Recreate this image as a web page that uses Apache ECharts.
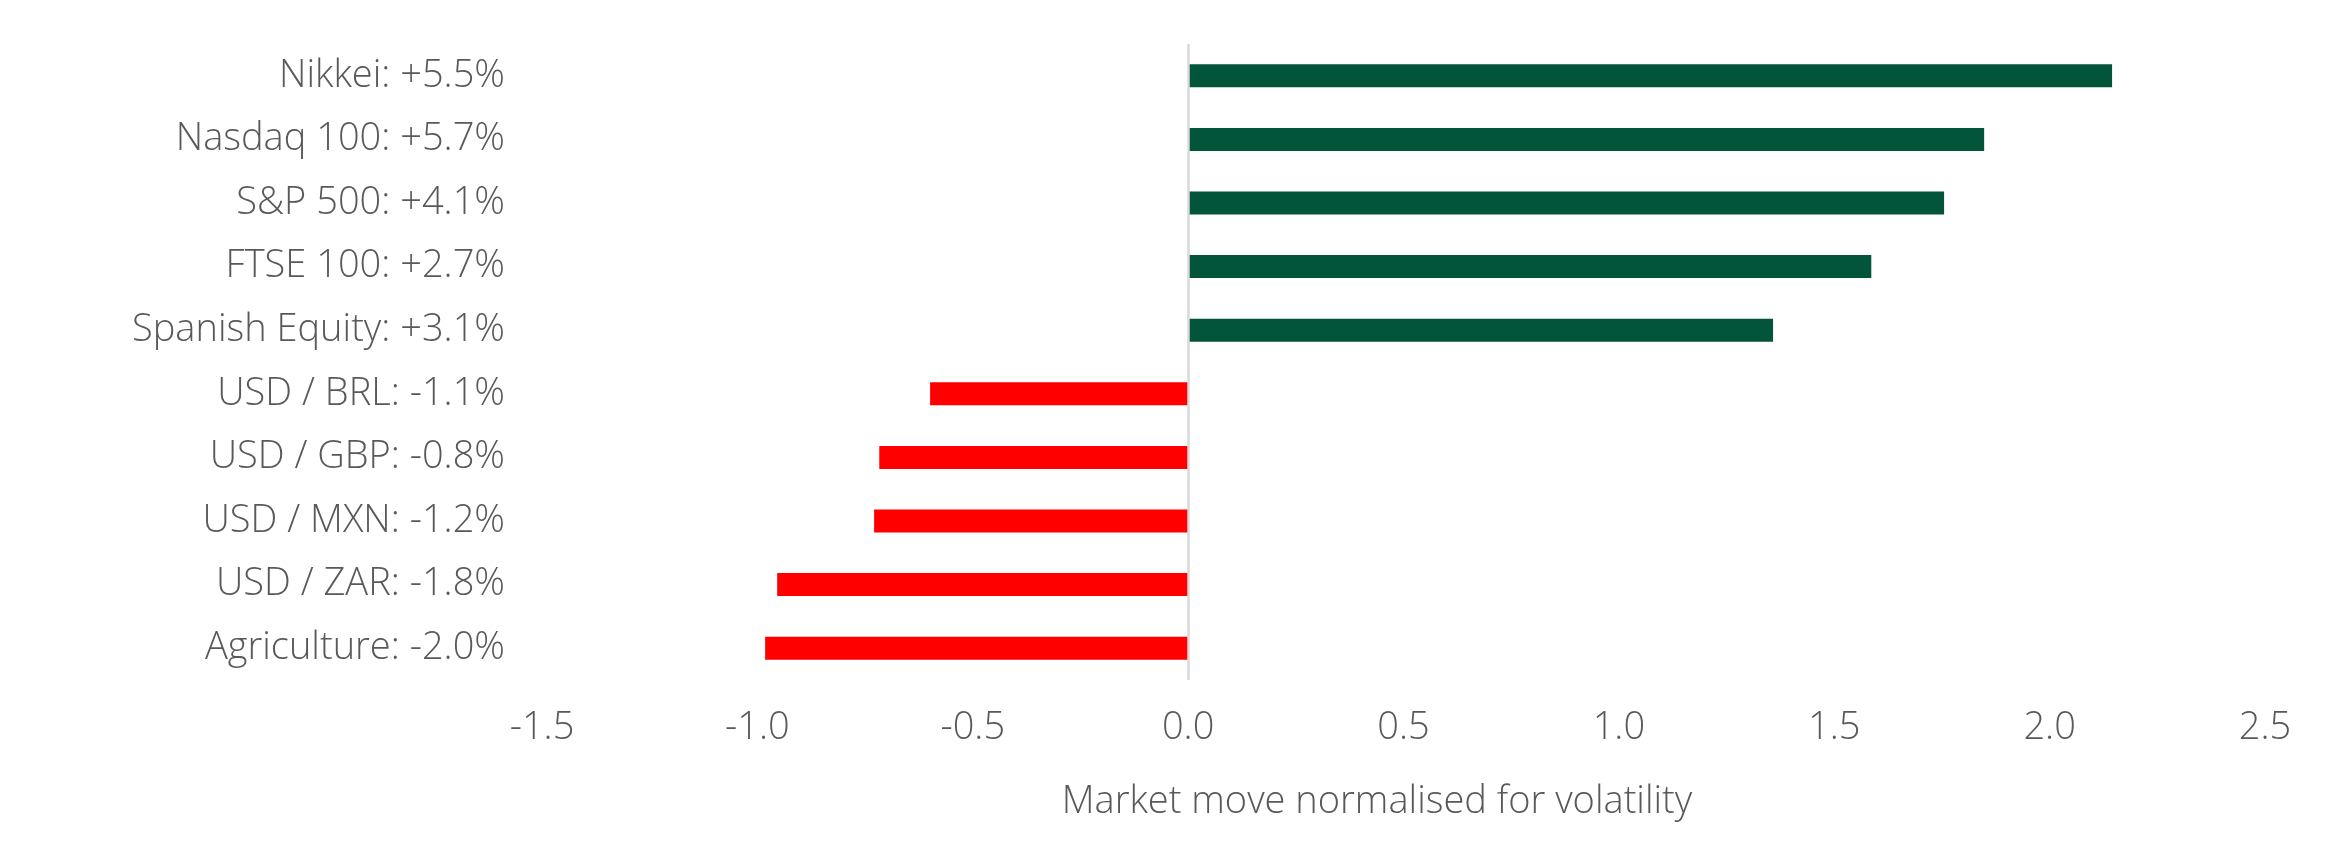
<!DOCTYPE html>
<html>
<head>
<meta charset="utf-8">
<script src="https://cdn.jsdelivr.net/npm/echarts@6/dist/echarts.min.js"></script>
<style>
  html, body { margin: 0; padding: 0; background: #ffffff; }
  #chart { width: 2339px; height: 858px; }
</style>
</head>
<body>
<div id="chart"></div>
<script>
// categories, top to bottom
var categories = [
  'Nikkei: +5.5%',
  'Nasdaq 100: +5.7%',
  'S&P 500: +4.1%',
  'FTSE 100: +2.7%',
  'Spanish Equity: +3.1%',
  'USD / BRL: -1.1%',
  'USD / GBP: -0.8%',
  'USD / MXN: -1.2%',
  'USD / ZAR: -1.8%',
  'Agriculture: -2.0%'
];
// market move normalised for volatility
var moves = [2.145, 1.848, 1.755, 1.586, 1.358, -0.599, -0.717, -0.729, -0.954, -0.982];

var xMin = -1.5, xMax = 2.5, xStep = 0.5;
var axisTitle = 'Market move normalised for volatility';

var textColor = '#595959';
var fontName = '"Open Sans", sans-serif';

var myChart = echarts.init(document.getElementById('chart'));

var option = {
    animation: false,
    backgroundColor: '#ffffff',
    grid: {
        left: 542,
        right: 74,
        top: 44,
        bottom: 178,
        containLabel: false
    },
    xAxis: {
        type: 'value',
        min: xMin,
        max: xMax,
        interval: xStep,
        axisLine: {show: false},
        axisTick: {show: false},
        splitLine: {show: false},
        axisLabel: {
            margin: 29,
            color: textColor,
            fontFamily: fontName,
            fontWeight: 300,
            fontSize: 38,
            lineHeight: 38,
            formatter: function (v) { return v.toFixed(1); }
        },
        name: axisTitle,
        nameLocation: 'middle',
        nameGap: 103,
        nameTextStyle: {
            color: textColor,
            fontFamily: fontName,
            fontWeight: 300,
            fontSize: 38,
            lineHeight: 38,
            padding: [0, 53, 0, 0]
        }
    },
    yAxis: {
        type: 'category',
        inverse: true,
        data: categories,
        axisLine: {show: false},
        axisTick: {show: false},
        splitLine: {show: false},
        axisLabel: {
            margin: 37,
            color: textColor,
            fontFamily: fontName,
            fontWeight: 300,
            fontSize: 38
        }
    },
    series: [
        {
            name: 'move',
            type: 'bar',
            data: moves,
            barWidth: 23,
            itemStyle: {
                color: function (p) { return p.value >= 0 ? '#02543a' : '#ff0000'; }
            },
            markLine: {
                silent: true,
                symbol: 'none',
                label: {show: false},
                lineStyle: {color: '#d9d9d9', width: 2.5, type: 'solid'},
                data: [{xAxis: 0}]
            }
        }
    ]
};

myChart.setOption(option);
</script>
</body>
</html>
